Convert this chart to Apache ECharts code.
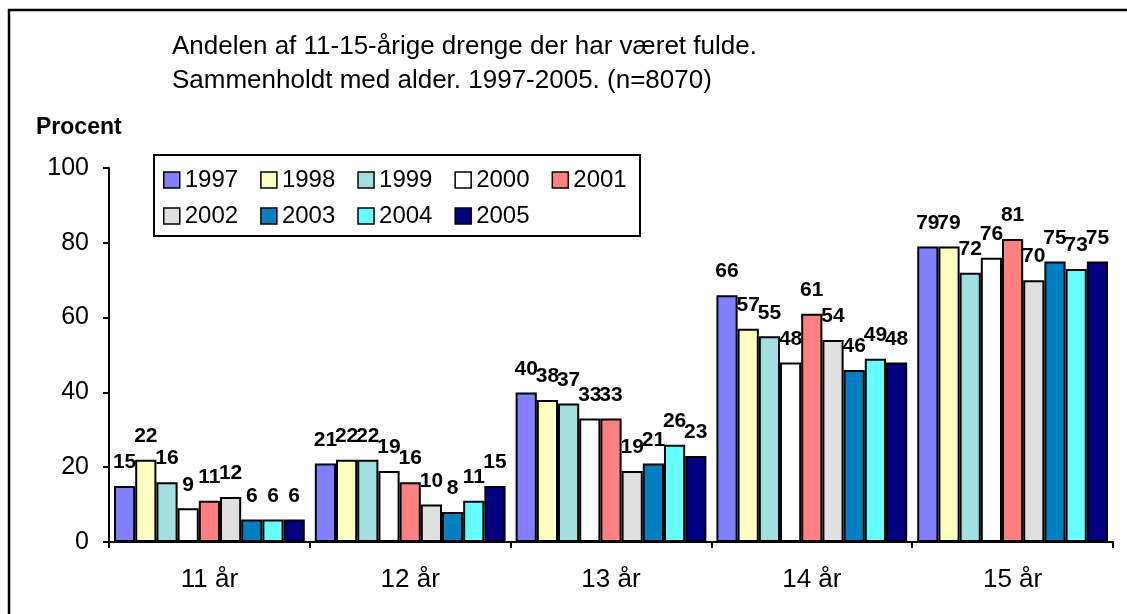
<!DOCTYPE html>
<html>
<head>
<meta charset="utf-8">
<script src="https://cdn.jsdelivr.net/npm/echarts@6/dist/echarts.min.js"></script>
<style>
  html, body { margin: 0; padding: 0; background: #fff; }
  #chart { width: 1127px; height: 614px; }
</style>
</head>
<body>
<div id="chart"></div>
<script>
const font = 'Liberation Sans, Arial, sans-serif'

// aldersgrupper
const ages = ['11 år', '12 år', '13 år', '14 år', '15 år']
const years = ['1997', '1998', '1999', '2000', '2001', '2002', '2003', '2004', '2005']
const colors = ['#8080FF', '#FFFFC0', '#A0E0E0', '#FFFFFF', '#FF8080', '#E0E0E0', '#0080C0', '#66FFFF', '#000080']

// procent pr. år, en værdi pr. aldersgruppe
const v1997 = [15, 21, 40, 66, 79]
const v1998 = [22, 22, 38, 57, 79]
const v1999 = [16, 22, 37, 55, 72]
const v2000 = [9, 19, 33, 48, 76]
const v2001 = [11, 16, 33, 61, 81]
const v2002 = [12, 10, 19, 54, 70]
const v2003 = [6, 8, 21, 46, 75]
const v2004 = [6, 11, 26, 49, 73]
const v2005 = [6, 15, 23, 48, 75]
const values = [v1997, v1998, v1999, v2000, v2001, v2002, v2003, v2004, v2005]

const chart = echarts.init(document.getElementById('chart'))

const series = years.map((y, i) => ({
  name: y,
  type: 'bar',
  data: values[i],
  barGap: 0,
  barCategoryGap: '5%',
  itemStyle: { color: colors[i], borderColor: '#000', borderWidth: 2 },
  label: {
    show: true,
    position: 'top',
    distance: 13,
    color: '#000',
    fontFamily: font,
    fontWeight: 'bold',
    fontSize: 21,
  },
}))

const legendBase = {
  left: 163,
  itemWidth: 16,
  itemHeight: 16,
  itemGap: 22,
  icon: 'rect',
  padding: 0,
  itemStyle: { borderColor: '#000', borderWidth: 1.5 },
  textStyle: { color: '#000', fontFamily: font, fontSize: 24 },
}

chart.setOption({
  animation: false,
  backgroundColor: '#fff',
  color: colors,
  title: {
    text: 'Andelen af 11-15-årige drenge der har været fulde.\nSammenholdt med alder. 1997-2005. (n=8070)',
    left: 172,
    top: 30,
    padding: 0,
    textStyle: { color: '#000', fontFamily: font, fontWeight: 'normal', fontSize: 26, lineHeight: 34 },
  },
  legend: [
    Object.assign({}, legendBase, { top: 168, data: years.slice(0, 5) }),
    Object.assign({}, legendBase, { top: 204, data: years.slice(5) }),
  ],
  graphic: [
    {
      type: 'rect',
      shape: { x: 9, y: 10, width: 1200, height: 700 },
      style: { fill: 'none', stroke: '#000', lineWidth: 2.5 },
      silent: true,
    },
    {
      type: 'rect',
      z: -1,
      shape: { x: 154, y: 155, width: 486, height: 81 },
      style: { fill: '#fff', stroke: '#000', lineWidth: 2 },
      silent: true,
    },
    {
      type: 'text',
      left: 36,
      top: 116,
      style: { text: 'Procent', fill: '#000', font: 'bold 23px ' + font },
    },
  ],
  grid: { left: 109, right: 14, top: 168, bottom: 72 },
  xAxis: {
    type: 'category',
    data: ages,
    axisLine: { lineStyle: { color: '#000', width: 2 } },
    axisTick: { show: true, length: 6, lineStyle: { color: '#000', width: 2 } },
    axisLabel: { color: '#000', fontFamily: font, fontSize: 26, margin: 25 },
  },
  yAxis: {
    type: 'value',
    min: 0,
    max: 100,
    interval: 20,
    axisLine: { show: true, lineStyle: { color: '#000', width: 2 } },
    axisTick: { show: true, length: 6, lineStyle: { color: '#000', width: 2 } },
    splitLine: { show: false },
    axisLabel: { color: '#000', fontFamily: font, fontSize: 25, margin: 20 },
  },
  series: series,
})
</script>
</body>
</html>
